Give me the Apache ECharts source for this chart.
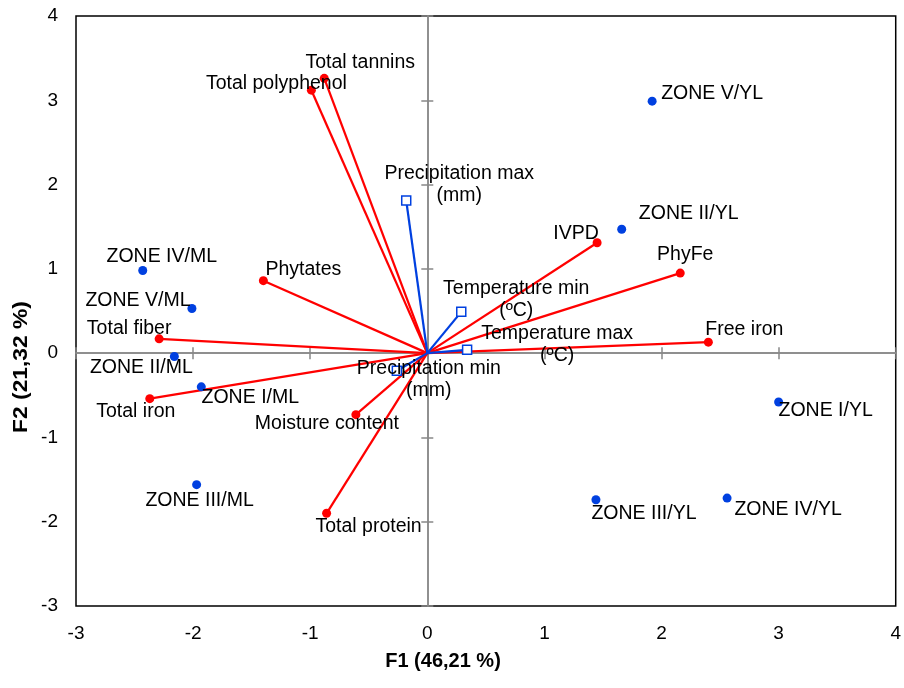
<!DOCTYPE html>
<html>
<head>
<meta charset="utf-8">
<script src="https://cdn.jsdelivr.net/npm/echarts@6/dist/echarts.min.js"></script>
<style>
  html, body { margin: 0; padding: 0; background: #fff; }
  #chart { width: 904px; height: 688px; }
</style>
</head>
<body>
<div id="chart"></div>
<script>
// Active variables (red vectors)
const varNames = ['Total tannins', 'Total polyphenol', 'Phytates', 'Total fiber', 'Total iron',
  'Moisture content', 'Total protein', 'IVPD', 'PhyFe', 'Free iron'];
const varF1 = [-0.88, -0.99, -1.40, -2.29, -2.37, -0.61, -0.86, 1.45, 2.16, 2.40];
const varF2 = [3.26, 3.12, 0.86, 0.17, -0.54, -0.73, -1.90, 1.31, 0.95, 0.13];

// Supplementary climate variables (blue vectors)
const suppNames = ['Precipitation max\n(mm)', 'Temperature min\n(ºC)', 'Temperature max\n(ºC)', 'Precipitation min\n(mm)'];
const suppF1 = [-0.18, 0.29, 0.34, -0.26];
const suppF2 = [1.81, 0.49, 0.04, -0.21];

// Observations (sampling zones)
const obsNames = ['ZONE IV/ML', 'ZONE V/ML', 'ZONE II/ML', 'ZONE I/ML', 'ZONE III/ML',
  'ZONE V/YL', 'ZONE II/YL', 'ZONE I/YL', 'ZONE III/YL', 'ZONE IV/YL'];
const obsF1 = [-2.43, -2.01, -2.16, -1.93, -1.97, 1.92, 1.66, 3.00, 1.44, 2.56];
const obsF2 = [0.98, 0.53, -0.04, -0.40, -1.56, 2.99, 1.47, -0.58, -1.74, -1.72];

// Axis ticks
const axisMin = -3, axisMax = 4, axisStep = 1;

// Label placement (pixel offsets of label centre from the marker)
const varLabelOffset = [[36, -16], [-35, -7], [40, -11], [-30, -10], [-14, 13],
  [-29, 9], [42, 13], [-21, -9], [5, -18], [36, -13]];
const suppLabelOffset = [[53, -16], [55, -12], [90, -5], [32, 9]];
const obsLabelOffset = [[19, -14], [-54, -8], [-33, 11], [49, 11], [3, 16],
  [60, -8], [67, -16], [47, 9], [48, 14], [61, 12]];

const FONT = 'Arial, "Liberation Sans", sans-serif';
const RED = '#ff0000';
const BLUE = '#0040e0';
const labelStyle = { color: '#000', fontFamily: FONT, fontSize: 19.5, lineHeight: 22, textBorderWidth: 0, opacity: 1 };

function points(names, xs, ys, offsets) {
  return names.map((n, i) => ({
    name: n,
    value: [xs[i], ys[i]],
    label: { show: true, position: 'inside', offset: offsets[i], formatter: n, align: 'center', ...labelStyle }
  }));
}
function vectors(xs, ys) {
  return xs.map((x, i) => ({ coords: [[0, 0], [x, ys[i]]] }));
}

const valueAxisBase = { type: 'value', min: axisMin, max: axisMax, interval: axisStep, splitLine: { show: false } };
const zeroLine = { show: true, onZero: true, lineStyle: { color: '#888', width: 1.5 } };
const zeroTick = { show: true, length: 6, lineStyle: { color: '#888', width: 1.5 } };
const noLabel = { show: false };

const option = {
  backgroundColor: '#fff',
  animation: false,
  grid: { left: 76, right: 4, top: 16, bottom: 82, show: true, borderColor: '#000', borderWidth: 1.5, containLabel: false },
  xAxis: [
    { ...valueAxisBase, position: 'bottom', axisLine: { show: false }, axisTick: { show: false },
      axisLabel: { color: '#000', fontFamily: FONT, fontSize: 19, margin: 18 } },
    { ...valueAxisBase, axisLine: zeroLine, axisTick: { ...zeroTick, inside: true }, axisLabel: noLabel },
    { ...valueAxisBase, axisLine: zeroLine, axisTick: { ...zeroTick, inside: false }, axisLabel: noLabel }
  ],
  yAxis: [
    { ...valueAxisBase, position: 'left', axisLine: { show: false }, axisTick: { show: false },
      axisLabel: { color: '#000', fontFamily: FONT, fontSize: 19, margin: 18 } },
    { ...valueAxisBase, axisLine: zeroLine, axisTick: { ...zeroTick, inside: true }, axisLabel: noLabel },
    { ...valueAxisBase, axisLine: zeroLine, axisTick: { ...zeroTick, inside: false }, axisLabel: noLabel }
  ],
  graphic: [
    { type: 'text', x: 443, y: 661,
      style: { text: 'F1 (46,21 %)', font: 'bold 20px ' + FONT, fill: '#000', align: 'center', verticalAlign: 'middle' } },
    { type: 'text', x: 21, y: 367, rotation: Math.PI / 2, scaleX: 1.14,
      style: { text: 'F2 (21,32 %)', font: 'bold 20px ' + FONT, fill: '#000', align: 'center', verticalAlign: 'middle' } }
  ],
  series: [
    { type: 'lines', coordinateSystem: 'cartesian2d', silent: true, z: 3,
      lineStyle: { color: RED, width: 2.25, opacity: 1 }, data: vectors(varF1, varF2) },
    { type: 'lines', coordinateSystem: 'cartesian2d', silent: true, z: 4,
      lineStyle: { color: BLUE, width: 2.25, opacity: 1 }, data: vectors(suppF1, suppF2) },
    { type: 'scatter', symbol: 'circle', symbolSize: 9, z: 5,
      itemStyle: { color: RED, opacity: 1 }, data: points(varNames, varF1, varF2, varLabelOffset) },
    { type: 'scatter', symbol: 'rect', symbolSize: 9, z: 6,
      itemStyle: { color: '#fff', borderColor: BLUE, borderWidth: 1.5, opacity: 1 }, data: points(suppNames, suppF1, suppF2, suppLabelOffset) },
    { type: 'scatter', symbol: 'circle', symbolSize: 9, z: 5,
      itemStyle: { color: BLUE, opacity: 1 }, data: points(obsNames, obsF1, obsF2, obsLabelOffset) }
  ]
};

const chart = echarts.init(document.getElementById('chart'), null, { renderer: 'canvas' });
chart.setOption(option);
</script>
</body>
</html>
